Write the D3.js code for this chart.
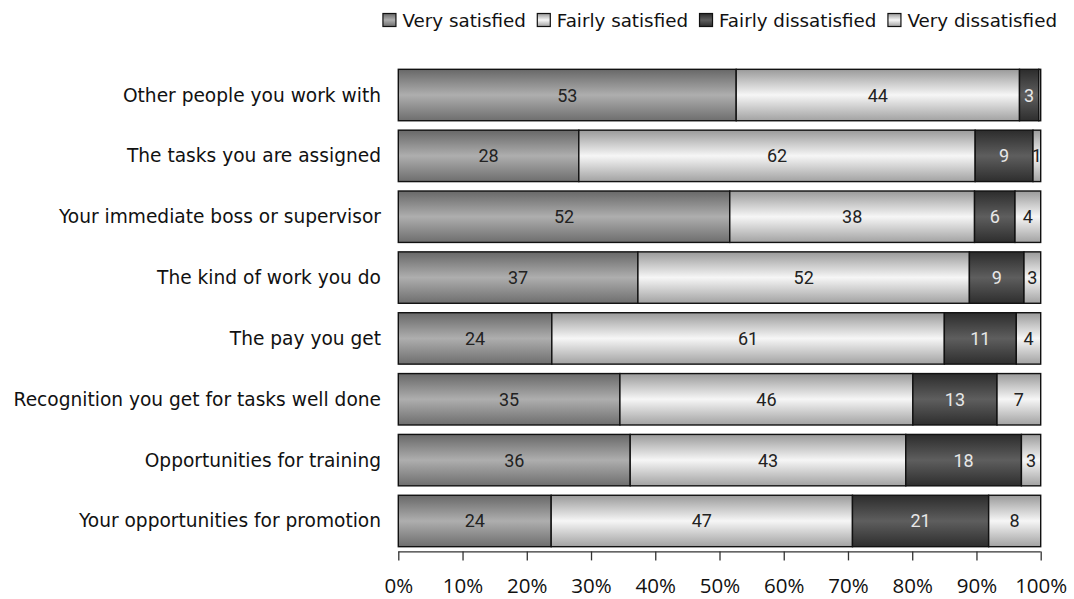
<!DOCTYPE html>
<html><head><meta charset="utf-8">
<script src="https://cdn.jsdelivr.net/npm/d3@7"></script>
<style>body{margin:0;background:#fff}</style>
</head><body>
<svg id="c" width="1074" height="599"></svg>
<script>
const categories = [
  "Other people you work with",
  "The tasks you are assigned",
  "Your immediate boss or supervisor",
  "The kind of work you do",
  "The pay you get",
  "Recognition you get for tasks well done",
  "Opportunities for training",
  "Your opportunities for promotion"
];
const seriesNames = ["Very satisfied","Fairly satisfied","Fairly dissatisfied","Very dissatisfied"];
const verySatisfied      = [52.6, 28.1, 51.6, 37.3, 23.9, 34.5, 36.1, 23.8];
const fairlySatisfied    = [44.1, 61.7, 38.1, 51.6, 61.1, 45.6, 42.9, 46.9];
const fairlyDissatisfied = [ 3.0,  9.0,  6.3,  8.5, 11.2, 13.1, 18.0, 21.2];
const veryDissatisfied   = [ 0.3,  1.2,  4.0,  2.6,  3.8,  6.8,  3.0,  8.1];
const tickValues = [0,10,20,30,40,50,60,70,80,90,100];

const series = [verySatisfied, fairlySatisfied, fairlyDissatisfied, veryDissatisfied];
const gradStops = [
  [["0","#686868"],["0.5","#aeaeae"],["1","#6e6e6e"]],
  [["0","#9a9a9a"],["0.5","#f6f6f6"],["1","#a2a2a2"]],
  [["0","#2c2c2c"],["0.5","#5e5e5e"],["1","#2e2e2e"]],
  [["0","#9a9a9a"],["0.5","#f6f6f6"],["1","#a2a2a2"]]
];
const textColors = ["#222","#222","#e8e8e8","#222"];

const svg = d3.select("#c");
const defs = svg.append("defs");
gradStops.forEach((st,i)=>{
  const g = defs.append("linearGradient").attr("id","g"+i)
    .attr("x1",0).attr("y1",0).attr("x2",0).attr("y2",1);
  st.forEach(s=>g.append("stop").attr("offset",s[0]).attr("stop-color",s[1]));
});

const x = d3.scaleLinear().domain([0,100]).range([398.3,1040.7]);
const y = d3.scaleBand().domain(categories).range([64.6,551.4]).paddingInner(0.155).paddingOuter(0.0775);

const rows = categories.map((c,ci)=>{
  let acc = 0;
  return series.map((s,si)=>{ const v=s[ci]; const r={cat:c, si, v, x0:acc, x1:acc+v}; acc+=v; return r; });
});

const g = svg.append("g");
rows.forEach(r=>{
  r.forEach(d=>{
    g.append("rect")
      .attr("x", x(d.x0)).attr("y", y(d.cat))
      .attr("width", Math.max(0, x(Math.min(100,d.x1)) - x(d.x0)))
      .attr("height", y.bandwidth())
      .attr("fill", `url(#g${d.si})`)
      .attr("stroke","#111").attr("stroke-width",1.4);
  });
  r.forEach(d=>{
    if (Math.round(d.v) < 1) return;
    g.append("text")
      .attr("x", (x(d.x0)+x(Math.min(100,d.x1)))/2)
      .attr("y", y(d.cat)+y.bandwidth()/2)
      .attr("text-anchor","middle").attr("dominant-baseline","central")
      .attr("font-family","Roboto").attr("font-size",18)
      .attr("fill", textColors[d.si])
      .text(Math.round(d.v));
  });
});

// category labels
svg.append("g").selectAll("text").data(categories).join("text")
  .attr("x",381).attr("y",d=>y(d)+y.bandwidth()/2)
  .attr("text-anchor","end").attr("dominant-baseline","central")
  .attr("font-family","'DejaVu Sans'").attr("font-size",18.6).attr("fill","#111")
  .text(d=>d);

// x axis
const ax = svg.append("g").attr("transform","translate(0,551.4)")
  .call(d3.axisBottom(x).tickValues(tickValues).tickSize(9).tickPadding(18).tickFormat(d=>d+"%"));
ax.select(".domain").attr("stroke","#333").attr("stroke-width",1.3).attr("d",`M${x(0)},0.5H${x(100)}`);
ax.selectAll(".tick line").attr("stroke","#333").attr("stroke-width",1.3);
ax.selectAll(".tick text").attr("font-family","'Open Sans'").attr("font-size",20.5).attr("fill","#111");

// legend
const lg = svg.append("g");
let items = seriesNames.map((n,i)=>{
  const it = lg.append("g");
  it.append("rect").attr("x",0.5).attr("y",-6.5).attr("width",13).attr("height",13)
    .attr("fill",`url(#g${i})`).attr("stroke","#111").attr("stroke-width",1.2);
  const t = it.append("text").attr("x",20).attr("y",0).attr("dominant-baseline","central")
    .attr("font-family","'DejaVu Sans'").attr("font-size",18.3).attr("fill","#111").text(n);
  return {it, w: 20 + t.node().getComputedTextLength()};
});
const gap = 11;
let total = d3.sum(items,d=>d.w) + gap*(items.length-1);
let cx = 1057 - total;
items.forEach(d=>{ d.it.attr("transform",`translate(${cx},20)`); cx += d.w + gap; });
</script>
</body></html>
